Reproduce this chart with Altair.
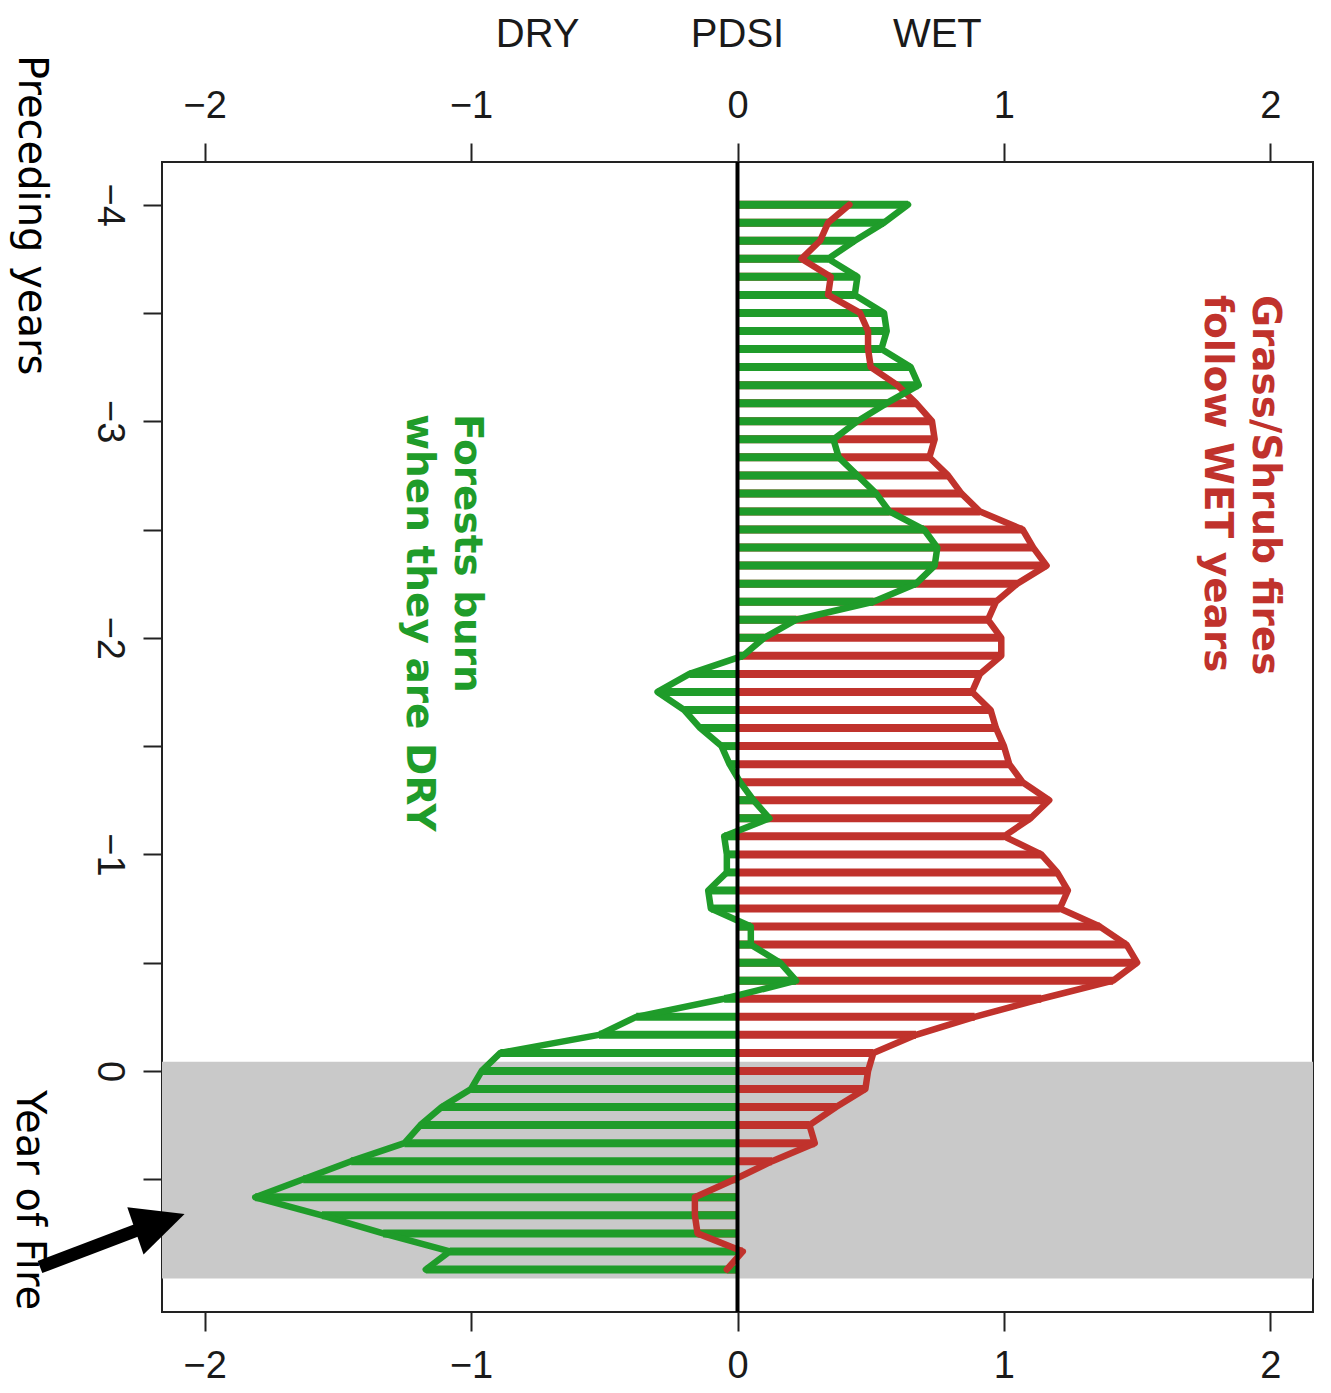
import altair as alt
import pandas as pd

# ---------------- data ----------------
# months relative to January of the fire year (-48 .. +11)
month_index = list(range(-48, 12))

# PDSI composite for forest fires (green)
green_pdsi = [0.64, 0.55, 0.44, 0.34, 0.45, 0.44, 0.55, 0.56, 0.54, 0.65, 0.68, 0.56,
              0.45, 0.36, 0.38, 0.45, 0.52, 0.57, 0.70, 0.75, 0.74, 0.67, 0.51, 0.22,
              0.10, 0.02, -0.18, -0.30, -0.20, -0.14, -0.06, -0.03, 0.01, 0.06, 0.12, -0.05,
              -0.04, -0.04, -0.11, -0.10, 0.05, 0.05, 0.16, 0.22, -0.05, -0.38, -0.52, -0.89,
              -0.96, -1.00, -1.11, -1.19, -1.25, -1.45, -1.63, -1.81, -1.56, -1.33, -1.08, -1.17]

# PDSI composite for grass/shrub fires (red)
red_pdsi = [0.42, 0.34, 0.31, 0.24, 0.35, 0.34, 0.46, 0.49, 0.49, 0.50, 0.60, 0.67,
            0.73, 0.74, 0.72, 0.79, 0.84, 0.91, 1.07, 1.11, 1.16, 1.05, 0.97, 0.94,
            0.99, 0.99, 0.91, 0.88, 0.95, 0.97, 1.00, 1.02, 1.07, 1.17, 1.10, 1.00,
            1.14, 1.20, 1.24, 1.21, 1.36, 1.46, 1.50, 1.41, 1.14, 0.89, 0.67, 0.51,
            0.49, 0.48, 0.37, 0.27, 0.29, 0.13, -0.01, -0.16, -0.16, -0.15, 0.02, -0.04]

x_ticks = [-2, -1, 0, 1, 2]
y_ticks = [-4, -3.5, -3, -2.5, -2, -1.5, -1, -0.5, 0, 0.5]
header_labels = ["DRY", "PDSI", "WET"]
header_pos = [-0.75, 0.0, 0.75]
fire_band_start = [-0.042]
fire_band_end = [0.958]

# ---------------- tables ----------------
years = [m / 12 for m in month_index]
df = pd.DataFrame({"t": years, "green": green_pdsi, "red": red_pdsi})
df["zero"] = 0.0
band_df = pd.DataFrame({"start": fire_band_start, "end": fire_band_end})
header_df = pd.DataFrame({"label": header_labels, "pos": header_pos})
zero_df = pd.DataFrame({"zero": [0.0]})
one = pd.DataFrame({"a": [0]})

W, H = 1151, 1150
GREEN = "#1f9c2a"
RED = "#c0322c"
INK = "#1a1a1a"

xs = alt.Scale(domain=[-2.16, 2.16], nice=False, zero=False)
ys = alt.Scale(domain=[-4.197, 1.113], nice=False, zero=False, reverse=True)

common_axis = dict(
    values=x_ticks, format="d", tickSize=19, tickWidth=2, tickColor="#222",
    labelFont="Liberation Sans", labelFontSize=38, labelColor=INK,
    domain=False, grid=False, title=None, labelFlush=False, labelOverlap=False,
)
bottom_axis = alt.Axis(orient="bottom", labelPadding=16, **common_axis)
top_axis = alt.Axis(orient="top", labelPadding=18, **common_axis)
left_axis = alt.Axis(
    orient="left", values=y_ticks,
    labelExpr="datum.value % 1 === 0 ? format(datum.value, 'd') : ''",
    labelAngle=90, labelAlign="center", labelBaseline="top",
    tickSize=19, tickWidth=2, tickColor="#222",
    labelFont="Liberation Sans", labelFontSize=38, labelColor=INK, labelPadding=16,
    domain=False, grid=False, title=None, labelFlush=False, labelOverlap=False,
)

band = alt.Chart(band_df).mark_rect(color="#c9c9c9").encode(
    x=alt.value(0), x2=alt.value(W),
    y=alt.Y("start:Q", scale=ys, axis=None), y2="end:Q",
)

red_rules = alt.Chart(df).mark_rule(color=RED, strokeWidth=8, strokeCap="butt").encode(
    x=alt.X("red:Q", scale=xs, axis=bottom_axis), x2="zero:Q",
    y=alt.Y("t:Q", scale=ys, axis=left_axis),
)
green_rules = alt.Chart(df).mark_rule(color=GREEN, strokeWidth=8, strokeCap="butt").encode(
    x=alt.X("green:Q", scale=xs, axis=top_axis), x2="zero:Q",
    y=alt.Y("t:Q", scale=ys, axis=None),
)
red_line = alt.Chart(df).mark_line(color=RED, strokeWidth=6.5, strokeJoin="round", strokeCap="round").encode(
    x=alt.X("red:Q", scale=xs, axis=None),
    y=alt.Y("t:Q", scale=ys, axis=None),
    order="t:Q",
)
green_line = alt.Chart(df).mark_line(color=GREEN, strokeWidth=6.5, strokeJoin="round", strokeCap="round").encode(
    x=alt.X("green:Q", scale=xs, axis=None),
    y=alt.Y("t:Q", scale=ys, axis=None),
    order="t:Q",
)
zero_rule = alt.Chart(zero_df).mark_rule(color="black", strokeWidth=4).encode(
    x=alt.X("zero:Q", scale=xs, axis=None),
)

header = alt.Chart(header_df).mark_text(
    font="Liberation Sans", fontSize=40, align="center", baseline="middle", color=INK
).encode(
    x=alt.X("pos:Q", scale=xs, axis=None), y=alt.value(-127), text="label:N"
)

green_txt = alt.Chart(one).mark_text(
    text=["Forests burn", "when they are DRY"], angle=90, align="left", baseline="middle",
    font="DejaVu Sans", fontWeight="bold", fontSize=39, lineHeight=48, color=GREEN,
).encode(x=alt.value(305), y=alt.value(252))

red_txt = alt.Chart(one).mark_text(
    text=["Grass/Shrub fires", "follow WET years"], angle=90, align="left", baseline="middle",
    font="DejaVu Sans", fontWeight="bold", fontSize=39, lineHeight=48, color=RED,
).encode(x=alt.value(1103), y=alt.value(133))

prec_txt = alt.Chart(one).mark_text(
    text="Preceding years", angle=90, align="left", baseline="middle",
    font="DejaVu Sans", fontSize=40, color="black",
).encode(x=alt.value(-131), y=alt.value(-107))

fire_txt = alt.Chart(one).mark_text(
    text="Year of Fire", angle=90, align="left", baseline="middle",
    font="DejaVu Sans", fontSize=40, color="black",
).encode(x=alt.value(-133), y=alt.value(928))

arrow_shaft = alt.Chart(one).mark_rule(color="black", strokeWidth=13, strokeCap="butt").encode(
    x=alt.value(-122), y=alt.value(1105), x2=alt.value(-22), y2=alt.value(1067)
)
arrow_head = alt.Chart(one).mark_point(
    shape="M0,-1L0.96,1L-0.96,1Z", size=2704, angle=71, filled=True,
    color="black", opacity=1, strokeWidth=0,
).encode(x=alt.value(-2), y=alt.value(1060.5))

chart = alt.layer(
    band, red_rules, green_rules, red_line, green_line, zero_rule,
    header, green_txt, red_txt, prec_txt, fire_txt, arrow_shaft, arrow_head,
).resolve_axis(x="independent", y="independent").properties(
    width=W, height=H,
    autosize=alt.AutoSizeParams(type="none"),
    padding={"left": 154, "top": 154, "right": 8, "bottom": 72},
    background="white",
).configure_view(stroke="#222", strokeWidth=2)

chart.save("out.html", embed_options={"renderer": "svg", "actions": False})
